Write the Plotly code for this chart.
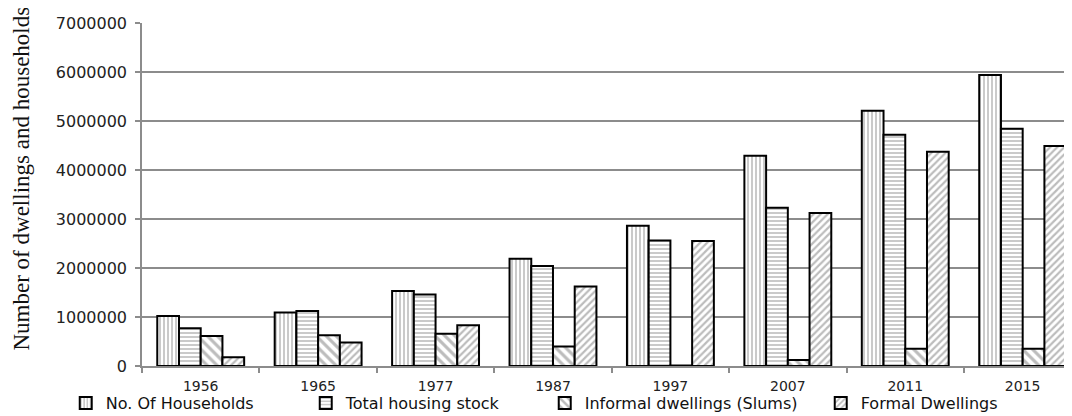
import plotly.graph_objects as go

years = ["1956", "1965", "1977", "1987", "1997", "2007", "2011", "2015"]
households = [1020000, 1090000, 1530000, 2190000, 2860000, 4290000, 5210000, 5940000]
housing_stock = [770000, 1120000, 1460000, 2040000, 2560000, 3230000, 4720000, 4840000]
informal = [610000, 630000, 660000, 400000, 10000, 120000, 350000, 350000]
formal = [180000, 480000, 830000, 1620000, 2550000, 3120000, 4370000, 4490000]

series = [
    ("No. Of Households", households, "|", 4, 0.4, 195),
    ("Total housing stock", housing_stock, "-", 4, 0.4, 194),
    ("Informal dwellings (Slums)", informal, "\\", 7, 0.45, 231),
    ("Formal Dwellings", formal, "/", 5, 0.45, 160),
]

fig = go.Figure()
for name, vals, shape, size, sol, lw in series:
    fig.add_trace(go.Bar(
        x=years, y=vals, name=name,
        legendwidth=lw,
        marker=dict(
            color="white",
            line=dict(color="black", width=2),
            pattern=dict(shape=shape, size=size, solidity=sol,
                         fgcolor="#7a7a7a", bgcolor="white", fillmode="overlay"),
        ),
    ))

# page body has an 8px margin, so the figure is 8px smaller and offsets shifted
fig.update_layout(
    width=1064, height=408,
    margin=dict(l=134, r=0, t=15, b=50, autoexpand=False),
    paper_bgcolor="white", plot_bgcolor="white",
    barmode="group", bargap=0.26, bargroupgap=0,
    font=dict(family="DejaVu Sans", color="#222222"),
    showlegend=True,
    legend=dict(
        orientation="h", x=-0.082, xanchor="left", y=-0.108, yanchor="middle",
        font=dict(family="DejaVu Sans", size=16, color="#111111"),
        itemwidth=30, bgcolor="rgba(0,0,0,0)", borderwidth=0,
    ),
    xaxis=dict(
        type="category", range=[-0.5, 7.42],
        showline=True, linecolor="#8c8c8c", linewidth=1.5,
        ticks="outside", tickson="boundaries", ticklen=5, tickcolor="#8c8c8c", tickwidth=1.5,
        tickfont=dict(family="DejaVu Sans", size=14, color="#222222"),
        ticklabelstandoff=6,
        showgrid=False, zeroline=False,
    ),
    yaxis=dict(
        range=[0, 7000000], dtick=1000000, tickformat="d",
        showline=True, linecolor="#8c8c8c", linewidth=1.5,
        ticks="outside", ticklen=5, tickcolor="#8c8c8c", tickwidth=1.5,
        tickfont=dict(family="DejaVu Sans", size=16, color="#222222"),
        ticklabelstandoff=5,
        showgrid=True, gridcolor="#8c8c8c", gridwidth=1.5, zeroline=False,
    ),
    annotations=[dict(
        text="Number of dwellings and households",
        xref="paper", yref="paper", x=(13 - 134) / 930, y=(358 - 170.5) / 343,
        xanchor="center", yanchor="middle", textangle=-90, showarrow=False,
        font=dict(family="Liberation Serif", size=23, color="#111111"),
    )],
)

fig.write_html("out.html")
